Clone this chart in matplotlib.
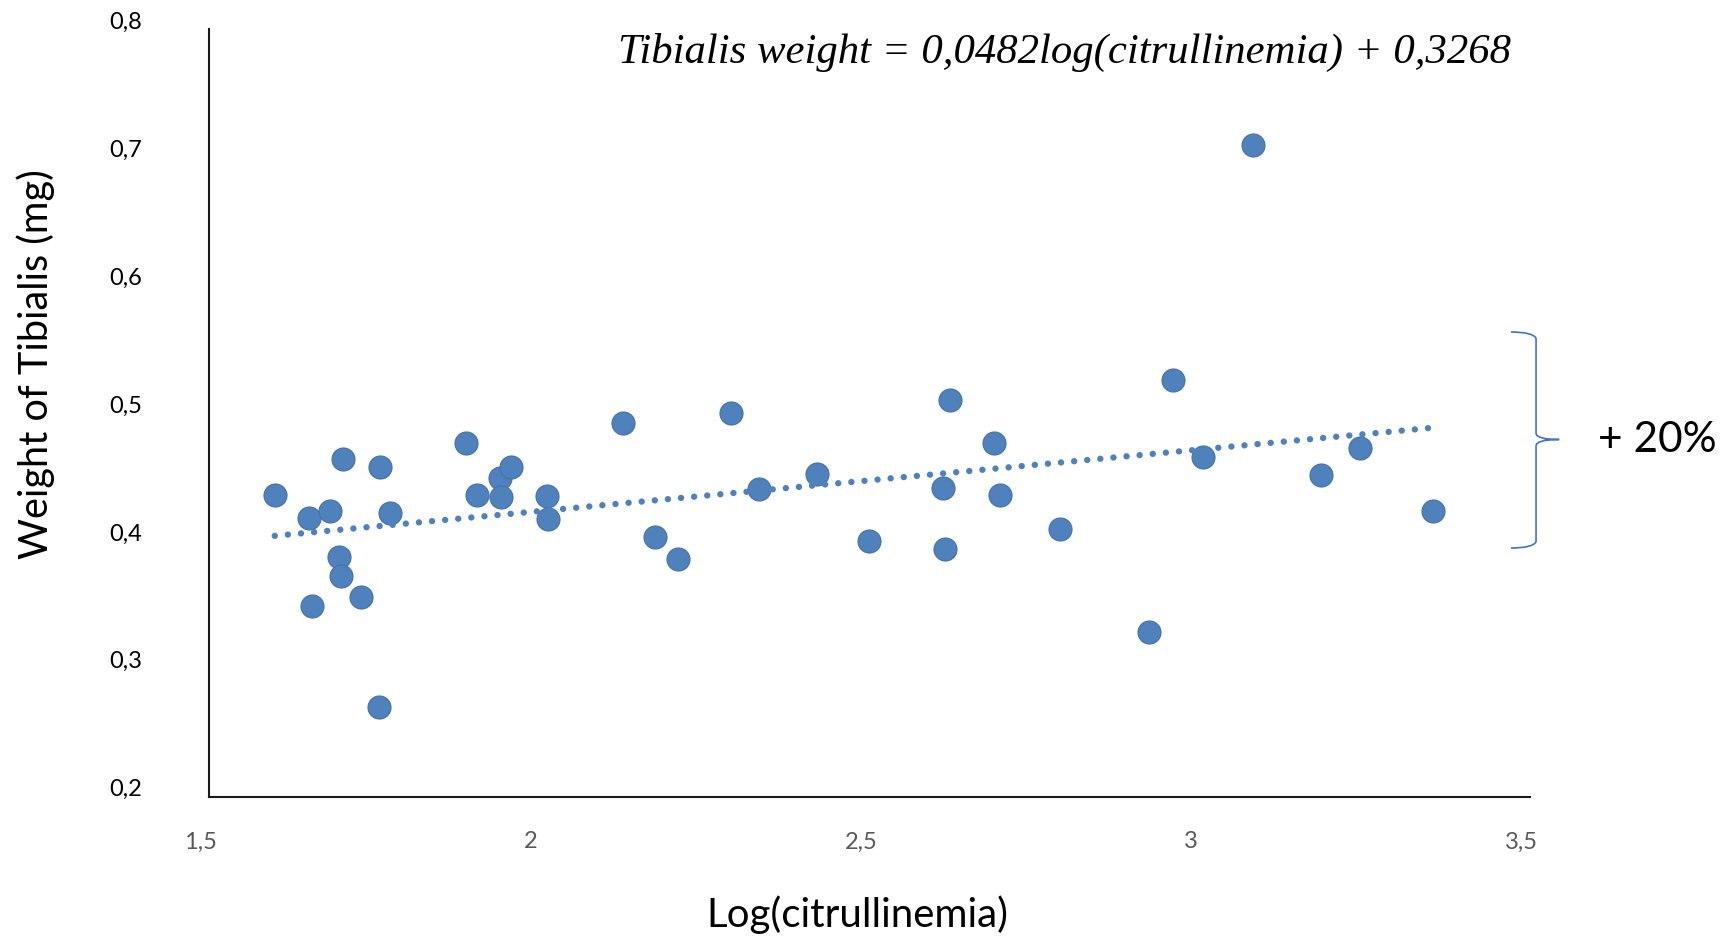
import numpy as np
import matplotlib
matplotlib.use("Agg")
import matplotlib.pyplot as plt
import matplotlib.transforms as mtransforms
from matplotlib.path import Path
from matplotlib.patches import PathPatch

plt.rcParams['font.family'] = ['Lato', 'DejaVu Sans']

# valeurs
log_citrullinemia = [1.600, 1.703, 1.759, 1.652, 1.683, 1.774, 1.890, 1.906, 1.941, 1.957,
                     1.943, 2.012, 2.013, 1.698, 1.701, 1.731, 1.657, 1.758,
                     2.127, 2.291, 2.333, 2.421, 2.175, 2.210, 2.500,
                     2.622, 2.688, 2.612, 2.698, 2.788, 2.614, 2.960, 3.005,
                     3.183, 3.242, 3.353, 3.081, 2.923]
tibialis_weight = [0.4356, 0.4637, 0.4577, 0.4176, 0.4233, 0.4220, 0.4764, 0.4358, 0.4493, 0.4577,
                   0.4342, 0.4350, 0.4173, 0.3876, 0.3725, 0.3558, 0.3490, 0.2703,
                   0.4923, 0.4999, 0.4402, 0.4520, 0.4027, 0.3855, 0.3998,
                   0.5103, 0.4767, 0.4410, 0.4358, 0.4095, 0.3936, 0.5254, 0.4657,
                   0.4517, 0.4728, 0.4231, 0.7091, 0.3285]

slope = 0.0482
intercept = 0.3268

xticks = [1.5, 2, 2.5, 3, 3.5]
xtick_labels = ['1,5', '2', '2,5', '3', '3,5']
yticks = [0.2, 0.3, 0.4, 0.5, 0.6, 0.7, 0.8]
ytick_labels = ['0,2', '0,3', '0,4', '0,5', '0,6', '0,7', '0,8']

blue = '#4F81BD'

fig = plt.figure(figsize=(17.26, 9.40), dpi=100)
ax = fig.add_axes([0.1209, 0.1524, 0.7656, 0.8167])

ax.scatter(log_citrullinemia, tibialis_weight, s=275, color=blue,
           edgecolors='#4572A7', linewidths=0.8, zorder=3)

# courbe de tendance
xt = np.array([min(log_citrullinemia), max(log_citrullinemia)])
ax.plot(xt, slope * xt + intercept, color=blue, lw=4.6,
        linestyle=(0, (0.01, 2.05)), dash_capstyle='round', zorder=4)

ax.set_xlim(1.5, 3.5)
ax.set_ylim(0.2, 0.8)
ax.set_xticks(xticks)
ax.set_xticklabels(xtick_labels)
ax.set_yticks(yticks)
ax.set_yticklabels(ytick_labels)
ax.tick_params(axis='x', length=0, pad=25, labelsize=17, labelcolor='#595959')
ax.tick_params(axis='y', length=0, pad=48, labelsize=17, labelcolor='black')

# decalage des etiquettes comme sur l'original
dx = mtransforms.ScaledTranslation(-8.5 / 100, 0, fig.dpi_scale_trans)
dy = mtransforms.ScaledTranslation(0, 9 / 100, fig.dpi_scale_trans)
for lab in ax.get_xticklabels():
    lab.set_transform(lab.get_transform() + dx)
for lab in ax.get_yticklabels():
    lab.set_transform(lab.get_transform() + dy)

for side in ['top', 'right']:
    ax.spines[side].set_visible(False)
for side in ['left', 'bottom']:
    ax.spines[side].set_linewidth(1.5)
    ax.spines[side].set_color('#1a1a1a')

ax.set_xlabel('Log(citrullinemia)', fontsize=29)
ax.xaxis.set_label_coords(0.491, -0.154)
ax.xaxis.label.set_va('center')
ax.set_ylabel('Weight of Tibialis (mg)', fontsize=28.5)
ax.yaxis.set_label_coords(-0.1307, 0.563)
ax.yaxis.label.set_va('center')

ax.text(2.795, 0.782, 'Tibialis weight = 0,0482log(citrullinemia) + 0,3268',
        family='Liberation Serif', style='italic', fontsize=30.8,
        ha='center', va='center', clip_on=False)

# accolade + 20%
bx0, bx1, btip = 3.471, 3.509, 3.544
by_top, by_bot, by_mid = 0.5632, 0.3944, 0.4792
verts = [(bx0, by_top), (bx1 - 0.004, by_top), (bx1, by_top - 0.005),
         (bx1, by_mid + 0.005),
         (bx1, by_mid), (btip, by_mid),
         (bx1, by_mid), (bx1, by_mid - 0.005),
         (bx1, by_bot + 0.005),
         (bx1 - 0.004, by_bot), (bx0, by_bot)]
codes = [Path.MOVETO, Path.CURVE3, Path.CURVE3,
         Path.LINETO,
         Path.CURVE3, Path.CURVE3,
         Path.CURVE3, Path.CURVE3,
         Path.LINETO,
         Path.CURVE3, Path.CURVE3]
ax.add_patch(PathPatch(Path(verts, codes), facecolor='none', edgecolor='#4472C4',
                       lw=1.2, clip_on=False))
ax.text(3.603, by_mid, '+ 20%', fontsize=30.5, ha='left', va='center', clip_on=False)

fig.savefig('out.png', dpi=100)
